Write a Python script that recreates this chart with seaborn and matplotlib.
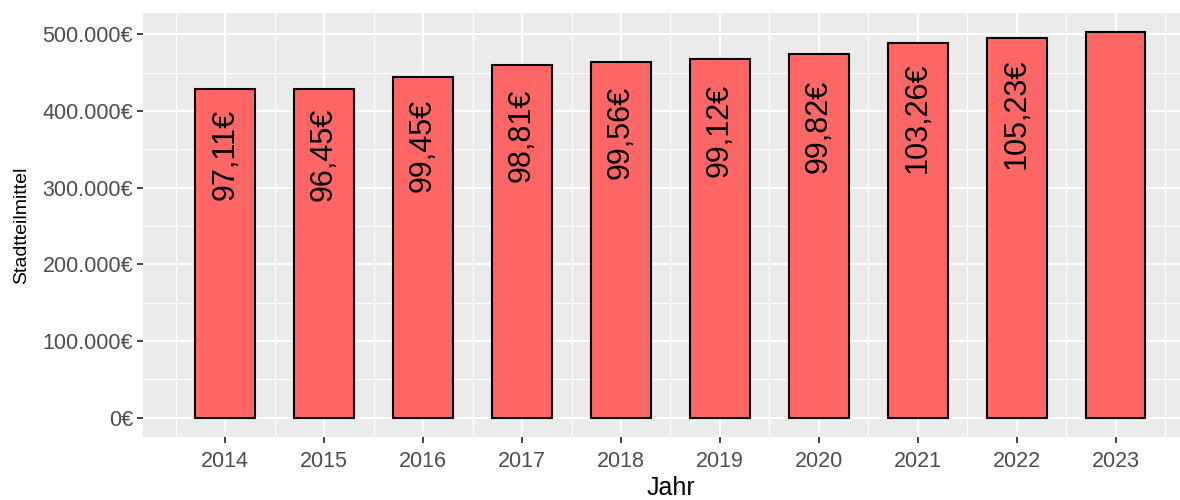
import numpy as np
import pandas as pd
import matplotlib
matplotlib.use('Agg')
import matplotlib.pyplot as plt
from matplotlib.ticker import FixedLocator, FuncFormatter
import seaborn as sns

# Daten
jahre = [2014, 2015, 2016, 2017, 2018, 2019, 2020, 2021, 2022, 2023]
stadtteilmittel = [428700, 428700, 444300, 460700, 464600, 468100, 475000, 488500, 495400, 502800]
beschriftung = [97.11, 96.45, 99.45, 98.81, 99.56, 99.12, 99.82, 103.26, 105.23, None]

df = pd.DataFrame({'Jahr': jahre, 'Stadtteilmittel': stadtteilmittel, 'Label': beschriftung})

sns.set_theme(style='darkgrid', rc={
    'axes.facecolor': '#EBEBEB',
    'grid.color': 'white',
})
plt.rcParams['font.family'] = ['Liberation Sans', 'DejaVu Sans']

fig = plt.figure(figsize=(11.8, 5), dpi=100)
ax = fig.add_axes([0.1212, 0.126, 0.894, 0.848])

sns.barplot(data=df, x='Jahr', y='Stadtteilmittel', native_scale=True, width=0.6,
            color='#FF6666', saturation=1, edgecolor='black', linewidth=1.5, ax=ax)

# Beschriftung in den Balken (Mitte bei 80 % der Höhe)
for j, v, lab in zip(df['Jahr'], df['Stadtteilmittel'], df['Label']):
    if lab is None or pd.isna(lab):
        continue
    txt = f'{lab:.2f}€'.replace('.', ',')
    ax.text(j, v * 0.8, txt, rotation=90, ha='center', va='center',
            fontsize=22, color='black')

ax.set_xlim(2013.17, 2023.83)
ax.set_ylim(-25140, 527940)

ax.xaxis.set_major_locator(FixedLocator(jahre))
ax.xaxis.set_minor_locator(FixedLocator([j - 0.5 for j in jahre] + [jahre[-1] + 0.5]))
ax.yaxis.set_major_locator(FixedLocator([0, 100000, 200000, 300000, 400000, 500000]))
ax.yaxis.set_minor_locator(FixedLocator([50000, 150000, 250000, 350000, 450000]))
ax.yaxis.set_major_formatter(FuncFormatter(lambda v, p: f'{int(v):,}'.replace(',', '.') + '€'))

ax.grid(which='major', color='white', linewidth=1.4)
ax.grid(which='minor', color='white', linewidth=0.7)
ax.set_axisbelow(True)
for s in ax.spines.values():
    s.set_visible(False)

ax.tick_params(axis='both', which='major', length=4, width=1.3, color='#333333',
               labelsize=15.5, labelcolor='#4D4D4D', pad=3, bottom=True, left=True)
ax.tick_params(axis='x', which='major', pad=6)
ax.tick_params(axis='both', which='minor', length=0)

ax.set_xlabel('Jahr', fontsize=18, color='black', labelpad=3)
ax.set_ylabel('Stadtteilmittel', fontsize=14, color='black', labelpad=9)

fig.savefig('out.png', dpi=100)
plt.close(fig)
